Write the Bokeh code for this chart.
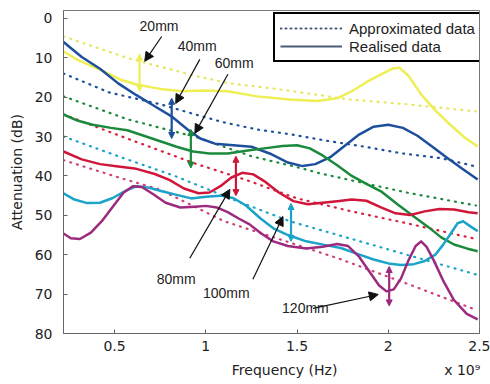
from bokeh.plotting import figure
from bokeh.models import (Range1d, FixedTicker, Legend, LegendItem, Label, Arrow, NormalHead)
from bokeh.embed import file_html
from bokeh.resources import INLINE

# ---------------- data ----------------
y20_f = [0.22, 0.30, 0.42, 0.53, 0.62, 0.75, 0.87, 0.99, 1.12, 1.28, 1.46, 1.61, 1.72, 1.80, 1.88, 1.96, 2.02, 2.06, 2.11, 2.18, 2.26, 2.34, 2.42, 2.49]
y20_db = [8.4, 10.6, 13.0, 15.5, 16.8, 17.9, 18.5, 18.3, 18.5, 19.8, 20.6, 21.0, 20.3, 18.5, 16.2, 14.2, 12.8, 12.5, 14.5, 19.3, 23.5, 27.0, 30.3, 32.5]

b40_f = [0.22, 0.32, 0.42, 0.52, 0.62, 0.72, 0.81, 0.90, 0.97, 1.05, 1.15, 1.25, 1.35, 1.45, 1.53, 1.60, 1.68, 1.76, 1.84, 1.92, 2.00, 2.08, 2.16, 2.24, 2.32, 2.40, 2.49]
b40_db = [6.0, 9.8, 12.8, 16.5, 19.5, 22.3, 24.8, 28.2, 30.5, 31.8, 32.2, 32.6, 34.3, 36.6, 37.5, 37.0, 35.3, 32.4, 29.5, 27.5, 27.0, 27.8, 29.8, 32.5, 35.3, 38.0, 40.9]

g60_f = [0.22, 0.30, 0.38, 0.48, 0.57, 0.66, 0.75, 0.84, 0.93, 1.02, 1.12, 1.22, 1.32, 1.42, 1.50, 1.57, 1.64, 1.72, 1.80, 1.88, 1.96, 2.05, 2.14, 2.22, 2.29, 2.36, 2.43, 2.49]
g60_db = [24.4, 26.0, 27.0, 27.8, 28.4, 29.8, 31.2, 32.6, 33.8, 34.3, 34.3, 33.6, 33.0, 32.4, 32.2, 33.0, 34.8, 37.3, 40.0, 42.0, 43.9, 47.2, 50.3, 53.0, 55.6, 57.4, 58.4, 59.1]

r80_f = [0.22, 0.32, 0.42, 0.52, 0.62, 0.72, 0.80, 0.88, 0.96, 1.02, 1.08, 1.14, 1.20, 1.26, 1.32, 1.40, 1.48, 1.56, 1.64, 1.72, 1.80, 1.88, 1.96, 2.04, 2.12, 2.20, 2.28, 2.36, 2.44, 2.49]
r80_db = [33.8, 35.8, 37.0, 37.6, 38.2, 39.5, 41.0, 43.2, 44.4, 44.2, 42.6, 40.4, 39.2, 39.6, 41.3, 44.2, 46.4, 47.2, 46.8, 46.4, 46.0, 46.3, 48.0, 49.5, 49.9, 49.0, 48.4, 48.5, 49.2, 49.5]

c100_f = [0.22, 0.28, 0.35, 0.42, 0.49, 0.56, 0.62, 0.69, 0.76, 0.84, 0.92, 1.00, 1.08, 1.15, 1.22, 1.30, 1.37, 1.45, 1.55, 1.65, 1.74, 1.83, 1.92, 2.00, 2.07, 2.14, 2.20, 2.26, 2.30, 2.34, 2.38, 2.41, 2.45, 2.49]
c100_db = [44.4, 46.0, 46.9, 46.8, 45.6, 43.8, 42.6, 43.0, 43.9, 44.8, 45.7, 45.3, 45.0, 45.6, 47.5, 50.8, 53.3, 55.0, 56.6, 57.5, 58.3, 59.8, 61.2, 62.2, 62.6, 62.4, 61.6, 59.9, 57.5, 54.8, 52.0, 51.5, 52.8, 54.0]

p120_f = [0.22, 0.26, 0.31, 0.37, 0.43, 0.49, 0.55, 0.60, 0.65, 0.71, 0.78, 0.86, 0.94, 1.00, 1.06, 1.12, 1.18, 1.24, 1.30, 1.37, 1.45, 1.55, 1.64, 1.72, 1.78, 1.84, 1.90, 1.95, 1.99, 2.03, 2.07, 2.11, 2.15, 2.18, 2.21, 2.25, 2.30, 2.36, 2.43, 2.49]
p120_db = [54.6, 55.8, 56.0, 54.4, 51.5, 47.8, 44.2, 42.6, 42.8, 44.6, 46.8, 48.0, 47.8, 47.6, 48.0, 49.2, 50.8, 52.3, 54.5, 56.6, 57.8, 58.4, 58.0, 57.3, 57.8, 60.5, 64.5, 67.8, 69.3, 68.8, 66.0, 61.5, 57.8, 56.6, 58.0, 61.5, 66.5, 71.5, 75.0, 76.4]

# approximated data
a20_f = [0.22, 0.58, 0.95, 1.13, 1.37, 1.79, 2.10, 2.48]
a20_db = [4.6, 10.2, 14.7, 16.5, 17.8, 20.6, 21.8, 23.6]
a40_f = [0.22, 0.47, 0.75, 0.95, 1.09, 1.28, 1.46, 1.68, 1.86, 2.08, 2.29, 2.48]
a40_db = [14.0, 18.8, 21.8, 24.5, 26.3, 28.2, 29.4, 31.2, 32.5, 34.3, 35.5, 37.6]
a60_f = [0.22, 0.57, 0.95, 1.25, 1.52, 1.63, 2.10, 2.48]
a60_db = [19.8, 25.6, 30.2, 35.0, 38.0, 39.4, 44.2, 47.5]
a80_f = [0.22, 0.58, 0.95, 1.22, 1.50, 1.80, 2.10, 2.48]
a80_db = [24.4, 30.7, 37.0, 41.0, 45.7, 49.0, 52.0, 56.0]
a100_f = [0.22, 0.55, 0.83, 1.15, 1.46, 1.80, 2.10, 2.48]
a100_db = [30.0, 35.5, 40.0, 46.0, 51.5, 56.0, 60.0, 65.0]
a120_f = [0.22, 0.53, 0.75, 1.10, 1.40, 1.73, 2.14, 2.48]
a120_db = [36.0, 40.5, 43.5, 51.5, 56.0, 61.0, 68.0, 74.0]

labels = ["20mm", "40mm", "60mm", "80mm", "100mm", "120mm"]
x_ticks = [0.5, 1, 1.5, 2, 2.5]
x_tick_labels = ["0.5", "1", "1.5", "2", "2.5"]
y_ticks = [0, 10, 20, 30, 40, 50, 60, 70, 80]
x_title = "Frequency (Hz)"
x_scale_text = "x 10\u2079"
legend_labels = ["Approximated data", "Realised data"]

# annotation geometry (label position, arrow start/end, marker x & span)
lab_pos = [(0.637, 2.0), (0.846, 7.1), (1.049, 11.4), (0.731, 66.2), (0.984, 69.8), (1.418, 73.6)]
arr = [((0.758, 4.6), (0.665, 10.9)), ((0.967, 10.4), (0.835, 21.6)), ((1.121, 14.2), (0.94, 29.2)),
       ((0.912, 60.9), (1.132, 43.4)), ((1.258, 66.2), (1.423, 50.3)), ((1.588, 73.6), (1.945, 70.1))]
mark = [(0.637, 9.1, 18.5), (0.813, 20.3, 30.5), (0.918, 28.2, 38.0), (1.165, 35.0, 45.0),
        (1.467, 47.0, 56.6), (2.005, 63.0, 73.0)]

colors = ["#eeee55", "#1d4f9c", "#1b8a3c", "#d0173a", "#1ba3c9", "#9c2a7f"]
dot_colors = ["#e6e660", "#1d4f9c", "#1b8a3c", "#d8203f", "#1ba3c9", "#d0407a"]

real = [(y20_f, y20_db), (b40_f, b40_db), (g60_f, g60_db), (r80_f, r80_db), (c100_f, c100_db), (p120_f, p120_db)]
appr = [(a20_f, a20_db), (a40_f, a40_db), (a60_f, a60_db), (a80_f, a80_db), (a100_f, a100_db), (a120_f, a120_db)]

# ---------------- figure ----------------
p = figure(width=490, height=384, output_backend="svg", toolbar_location=None,
           x_range=Range1d(0.22, 2.5), y_range=Range1d(80, -2),
           min_border_left=63, min_border_right=11, min_border_top=10, min_border_bottom=51)
p.xgrid.visible = False
p.ygrid.visible = False
p.outline_line_color = "#777777"
p.outline_line_width = 1
p.background_fill_color = "white"
p.border_fill_color = "white"

for (fx, fy), c in zip(appr, dot_colors):
    p.line(fx, fy, line_color=c, line_width=2.2, line_dash="1 6", line_cap="round")
for (fx, fy), c in zip(real, colors):
    p.line(fx, fy, line_color=c, line_width=2.5, line_join="round")

# markers (vertical double arrows)
for (mx, y0, y1), c in zip(mark, colors):
    p.add_layout(Arrow(x_start=mx, y_start=y0, x_end=mx, y_end=y1, line_color=c, line_width=2.2,
                       start=NormalHead(size=6, fill_color=c, line_color=c),
                       end=NormalHead(size=6, fill_color=c, line_color=c)))

# black arrows and labels
for (s, e), (lx, ly), t in zip(arr, lab_pos, labels):
    p.add_layout(Arrow(x_start=s[0], y_start=s[1], x_end=e[0], y_end=e[1], line_color="#111111",
                       line_width=1.2, end=NormalHead(size=9, fill_color="#111111", line_color="#111111")))
    p.add_layout(Label(x=lx, y=ly, text=t, text_font="Liberation Sans", text_font_size="14px",
                       text_color="#222222", text_align="left", text_baseline="middle"))

# axes
for ax in (p.xaxis[0], p.yaxis[0]):
    ax.major_tick_in = 4
    ax.major_tick_out = 0
    ax.minor_tick_line_color = None
    ax.axis_line_color = "#666666"
    ax.major_tick_line_color = "#666666"
    ax.major_label_text_font = "DejaVu Sans"
    ax.major_label_text_font_size = "14px"
    ax.major_label_text_color = "#222222"
    ax.axis_label_text_font = "DejaVu Sans"
    ax.axis_label_text_font_size = "14px"
    ax.axis_label_text_font_style = "normal"
    ax.axis_label_text_color = "#222222"

NB = "\u00a0"
p.xaxis.ticker = FixedTicker(ticks=x_ticks)
p.xaxis.major_label_overrides = {t: l for t, l in zip(x_ticks, x_tick_labels)}
p.xaxis.axis_label = NB * 38 + x_title + NB * 24 + x_scale_text
p.xaxis.major_label_standoff = 7
p.xaxis.axis_label_standoff = 8
p.yaxis.ticker = FixedTicker(ticks=y_ticks)
p.yaxis.axis_label = "Attenuation (dB)"
p.yaxis.major_label_standoff = 11
p.yaxis.axis_label_standoff = 7

# legend
r_a = p.line([-5, -4], [0, 0], line_color="#4a5a78", line_width=2, line_dash="1 4", line_cap="round")
r_r = p.line([-5, -4], [0, 0], line_color="#4a5a78", line_width=2)
legend = Legend(items=[LegendItem(label=legend_labels[0], renderers=[r_a]),
                       LegendItem(label=legend_labels[1], renderers=[r_r])],
                location=(210, 271), orientation="vertical",
                label_text_font="Liberation Sans", label_text_font_size="15px",
                label_text_color="#222222", glyph_width=62, glyph_height=18, label_height=18,
                label_standoff=7, spacing=0, padding=5, margin=0,
                border_line_color="#000000", border_line_width=2, border_line_alpha=1.0,
                background_fill_color="white", background_fill_alpha=1.0)
p.add_layout(legend, "center")

open("out.html", "w").write(file_html(p, INLINE))
